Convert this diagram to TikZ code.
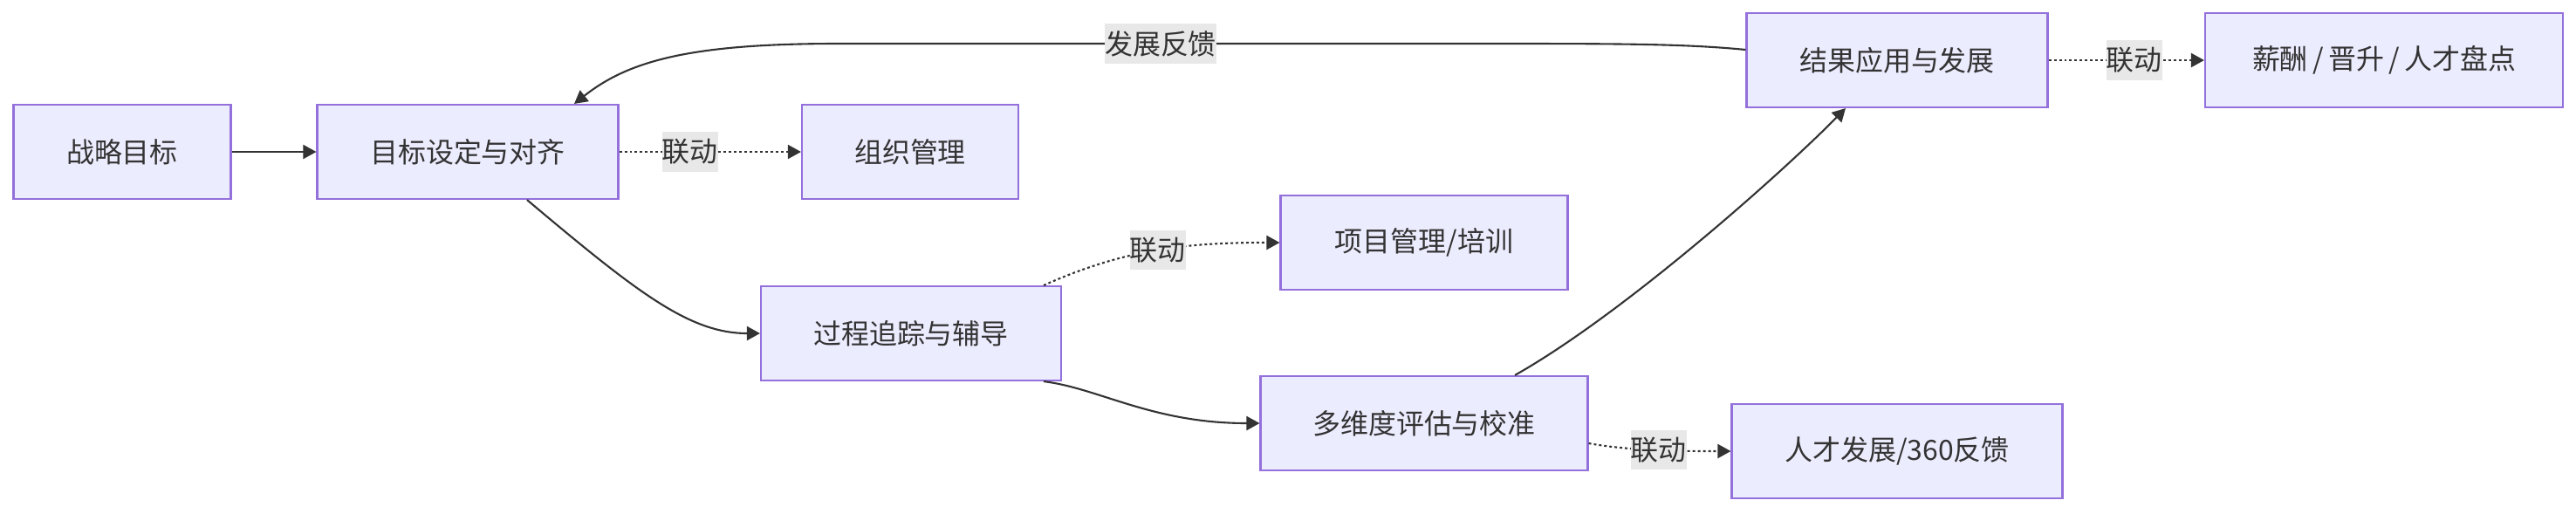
\documentclass[tikz,border=0pt]{standalone}
\usepackage{fontspec}
\setmainfont{Noto Sans CJK SC}
\usetikzlibrary{arrows.meta}
\definecolor{boxfill}{HTML}{ECECFF}
\definecolor{boxline}{HTML}{9370DB}
\definecolor{edgeink}{HTML}{333333}
\definecolor{labelbg}{HTML}{E8E8E8}

\begin{document}
\begin{tikzpicture}[
    box/.style={draw=boxline, fill=boxfill, line width=0.6pt, minimum height=1.08cm, inner sep=0pt, text=edgeink, font=\fontsize{9.1}{11}\selectfont},
    flowedge/.style={-{Triangle[length=1.5mm, width=1.6mm]}, line width=0.6pt, draw=edgeink},
    linkedge/.style={flowedge, dash pattern=on 0.85pt off 0.85pt},
    edgelabel/.style={fill=labelbg, text=edgeink, inner xsep=0pt, inner ysep=0.8mm, font=\fontsize{9.1}{11}\selectfont}
]
\useasboundingbox (0,0) rectangle (29.52,-5.88);

\node[box, minimum width=2.49cm] (strat)  at (1.40,-1.74)  {战略目标};
\node[box, minimum width=3.45cm] (goal)   at (5.36,-1.74)  {目标设定与对齐};
\node[box, minimum width=2.48cm] (org)    at (10.43,-1.74) {组织管理};
\node[box, minimum width=3.44cm] (track)  at (10.44,-3.82) {过程追踪与辅导};
\node[box, minimum width=3.29cm] (proj)   at (16.32,-2.78) {项目管理/培训};
\node[box, minimum width=3.75cm] (eval)   at (16.32,-4.85) {多维度评估与校准};
\node[box, minimum width=3.45cm] (result) at (21.74,-0.69) {结果应用与发展};
\node[box, minimum width=4.10cm] (pay)    at (27.32,-0.69) {薪酬\kern1.5pt/\kern1.5pt晋升\kern1.5pt/\kern1.5pt人才盘点};
\node[box, minimum width=3.79cm] (talent) at (21.74,-5.17) {人才发展/360反馈};

% 主流程
\draw[flowedge] (strat) -- (goal);
\draw[flowedge] ([xshift=6.8mm]goal.south) .. controls (7.3,-3.35) and (7.9,-3.82) .. (track.west);
\draw[flowedge] ([xshift=15.2mm]track.south) .. controls (12.6,-4.45) and (13.2,-4.85) .. (eval.west);
\draw[flowedge] ([xshift=10.4mm]eval.north) .. controls (18.6,-3.6) and (20.4,-2.0) .. ([xshift=-5.9mm]result.south);

% 反馈回路
\draw[flowedge] ([yshift=1.2mm]result.west) .. controls (19.3,-0.5) and (18.5,-0.5) .. (17.0,-0.5)
    -- node[edgelabel] {发展反馈} (9.6,-0.5)
    .. controls (7.9,-0.5) and (7.2,-0.7) .. ([xshift=12.2mm]goal.north);

% 联动
\draw[linkedge] (goal) -- node[edgelabel, pos=0.39] {联动} (org);
\draw[linkedge] ([xshift=15.2mm]track.north) .. controls (12.9,-2.85) and (13.6,-2.78) .. node[edgelabel] {联动} (proj.west);
\draw[linkedge] ([yshift=-2.3mm]eval.east) .. controls (18.7,-5.17) and (19.3,-5.17) .. node[edgelabel] {联动} (talent.west);
\draw[linkedge] (result) -- node[edgelabel, pos=0.55] {联动} (pay);

\end{tikzpicture}
\end{document}
